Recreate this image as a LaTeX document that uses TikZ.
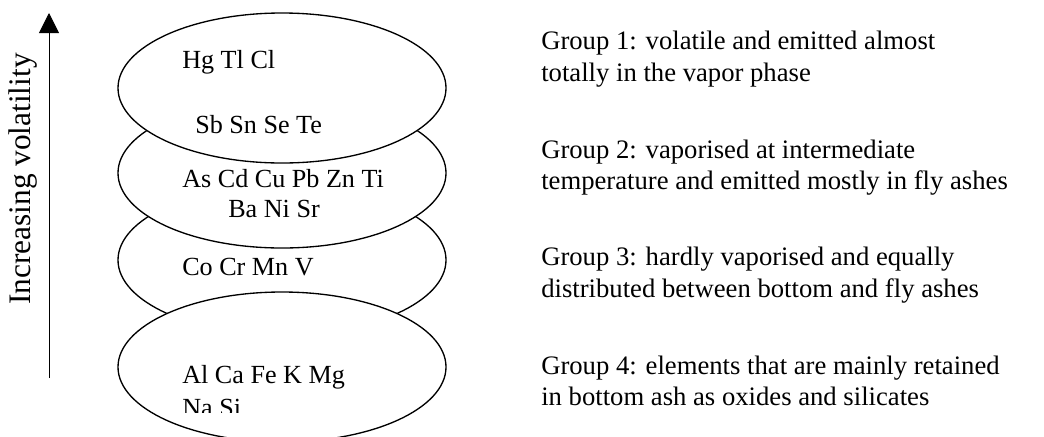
\documentclass[tikz,border=0pt]{standalone}
\usepackage{fontspec}
\setmainfont{Liberation Serif}
\usetikzlibrary{arrows.meta,shapes.geometric}
\begin{document}
\begin{tikzpicture}[x=0.75pt,y=-0.75pt,
  grp/.style={ellipse,draw=black,fill=white,line width=1pt,inner sep=0pt,
    minimum width=246pt,minimum height=112.5pt},
  etxt/.style={anchor=base west,inner sep=0pt,font=\fontsize{19.6}{24}\selectfont},
  rtxt/.style={anchor=base west,inner sep=0pt,font=\fontsize{20}{24}\selectfont},
  lbl/.style={rotate=90,inner sep=0pt,font=\fontsize{23.5}{26}\selectfont}]
\useasboundingbox (0,0) rectangle (1044,436);
\clip (0,0) rectangle (1044,436);
% ellipses (drawing order matters)
\node[grp] (e3) at (282,260) {};
\node[grp] (e4) at (282,367) {};
\node[grp] (e2) at (282,173) {};
\node[grp] (e1) at (282,88) {};
% ellipse texts
\node[etxt] (t1) at (182,68) {Hg Tl Cl};
\node[etxt] (t1b) at (195,133) {Sb Sn Se Te};
\node[etxt] (t2) at (182,187) {As Cd Cu Pb Zn Ti};
\node[etxt] (t2b) at (228,217) {Ba Ni Sr};
\node[etxt] (t3) at (182,275) {Co Cr Mn V};
\node[etxt] (t4) at (182,383) {Al Ca Fe K Mg};
\begin{scope}
\clip (0,0) rectangle (1044,412);
\node[etxt] (t4b) at (182,416) {Na Si};
\end{scope}
% arrow
\coordinate (abot) at (49,378);
\coordinate (atop) at (49,13);
\draw[line width=0.75pt,-{Triangle[length=15pt,width=15pt]}] (abot) -- (atop);
\node[lbl] (vol) at (23,179) {Increasing volatility};
% right texts
\node[rtxt] (g1a) at (541,49) {Group 1: volatile and emitted almost};
\node[rtxt] (g1b) at (541,81) {totally in the vapor phase};
\node[rtxt] (g2a) at (541,158) {Group 2: vaporised at intermediate};
\node[rtxt] (g2b) at (541,189) {temperature and emitted mostly in fly ashes};
\node[rtxt] (g3a) at (541,265) {Group 3: hardly vaporised and equally};
\node[rtxt] (g3b) at (541,297) {distributed between bottom and fly ashes};
\node[rtxt] (g4a) at (541,374) {Group 4: elements that are mainly retained};
\node[rtxt] (g4b) at (541,405) {in bottom ash as oxides and silicates};
\end{tikzpicture}
\end{document}
